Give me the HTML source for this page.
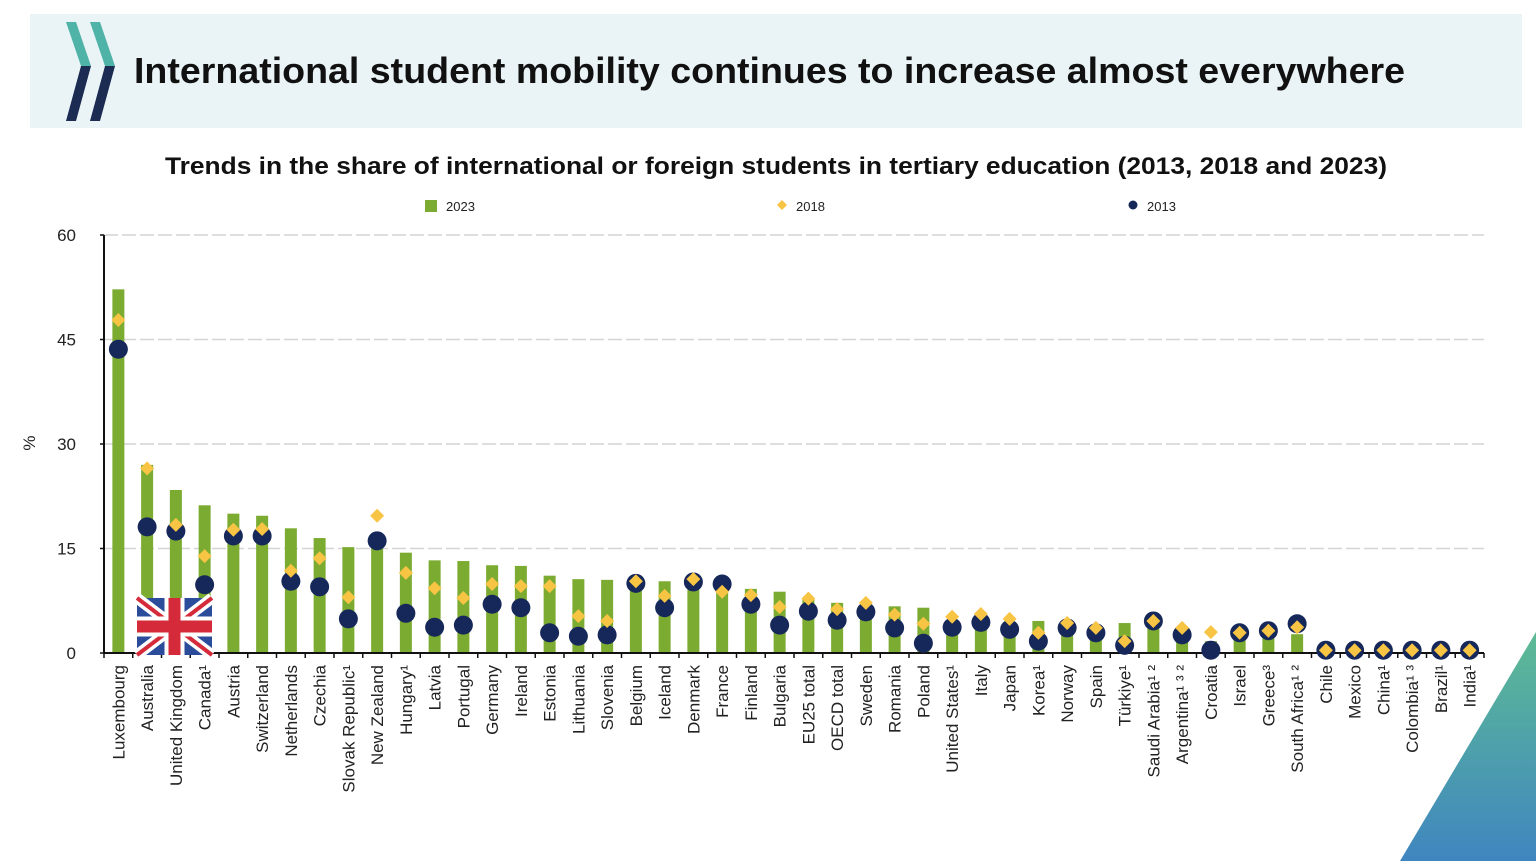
<!DOCTYPE html>
<html><head><meta charset="utf-8">
<style>
body{margin:0;width:1536px;height:861px;background:#fff;overflow:hidden;font-family:"Liberation Sans",sans-serif;}
</style></head>
<body>
<svg width="1536" height="861" viewBox="0 0 1536 861" xmlns="http://www.w3.org/2000/svg">
<defs>
<linearGradient id="cg" x1="0" y1="0" x2="0" y2="1">
<stop offset="0" stop-color="#5dbb94"/><stop offset="1" stop-color="#3f86c0"/>
</linearGradient>
</defs>
<rect x="30" y="14" width="1492" height="114" fill="#eaf4f6"/>
<g>
<polygon points="66,22 76,22 91,66 81,66" fill="#4fb3a8"/>
<polygon points="81,66 91,66 76,121 66,121" fill="#1b2b52"/>
<polygon points="90,22 100,22 115,66 105,66" fill="#4fb3a8"/>
<polygon points="105,66 115,66 100,121 90,121" fill="#1b2b52"/>
</g>
<text x="134" y="83" font-size="36" font-weight="bold" fill="#111" textLength="1271" lengthAdjust="spacingAndGlyphs">International student mobility continues to increase almost everywhere</text>
<text x="165" y="174" font-size="24" font-weight="bold" fill="#111" textLength="1222" lengthAdjust="spacingAndGlyphs">Trends in the share of international or foreign students in tertiary education (2013, 2018 and 2023)</text>
<g>
<rect x="425" y="200" width="12" height="12" fill="#7cab32"/>
<text x="446" y="211" font-size="13" fill="#222">2023</text>
<polygon points="782,200 787,205 782,210 777,205" fill="#f7c444"/>
<text x="796" y="211" font-size="13" fill="#222">2018</text>
<circle cx="1133" cy="205" r="4.5" fill="#16285a"/>
<text x="1147" y="211" font-size="13" fill="#222">2013</text>
</g>
<text transform="translate(35,443) rotate(-90)" font-size="17" text-anchor="middle" fill="#222">%</text>
<g id="plot"></g>
<polygon points="1536,632 1536,861 1400,861" fill="url(#cg)"/>
</svg>
<script>
const categories=["Luxembourg","Australia","United Kingdom","Canada¹","Austria","Switzerland","Netherlands","Czechia","Slovak Republic¹","New Zealand","Hungary¹","Latvia","Portugal","Germany","Ireland","Estonia","Lithuania","Slovenia","Belgium","Iceland","Denmark","France","Finland","Bulgaria","EU25 total","OECD total","Sweden","Romania","Poland","United States¹","Italy","Japan","Korea¹","Norway","Spain","Türkiye¹","Saudi Arabia¹ ²","Argentina¹ ³ ²","Croatia","Israel","Greece³","South Africa¹ ²","Chile","Mexico","China¹","Colombia¹ ³","Brazil¹","India¹"];
const v2023=[52.2,27,23.4,21.2,20,19.7,17.9,16.5,15.2,16.2,14.4,13.3,13.2,12.6,12.5,11.1,10.6,10.5,10.8,10.3,10.2,8.9,9.2,8.8,7.9,7.2,6.9,6.7,6.5,4,4.4,4.3,4.6,3.7,3.6,4.3,3.6,1.9,1.7,2,2.2,2.7,0.5,0.5,0.5,0.5,0.5,0.5];
const v2018=[47.8,26.5,18.4,13.9,17.7,17.8,11.8,13.6,8,19.7,11.5,9.3,7.9,9.9,9.6,9.6,5.3,4.6,10.3,8.2,10.6,8.8,8.3,6.6,7.8,6.3,7.2,5.5,4.2,5.2,5.6,4.9,2.9,4.3,3.6,1.7,4.6,3.6,3,2.9,3.2,3.7,0.4,0.4,0.4,0.4,0.4,0.4];
const v2013=[43.6,18.1,17.5,9.8,16.8,16.8,10.3,9.5,4.9,16.1,5.7,3.7,4,7,6.5,2.9,2.4,2.6,10,6.5,10.2,9.9,7,4,6,4.7,5.9,3.6,1.4,3.7,4.4,3.4,1.7,3.6,2.9,1.1,4.6,2.6,0.4,2.9,3.2,4.2,0.4,0.4,0.4,0.4,0.4,0.4];
const yTicks=[0,15,30,45,60];
const NS="http://www.w3.org/2000/svg";
const x0=104,x1=1484,y0=653,yTop=235,ymax=60;
const band=(x1-x0)/categories.length;
const xc=i=>x0+band*(i+0.5);
const ys=v=>y0-(v/ymax)*(y0-yTop);
const g=document.getElementById('plot');
function mk(t,a){const e=document.createElementNS(NS,t);for(const k in a)e.setAttribute(k,a[k]);g.appendChild(e);return e;}
yTicks.forEach(t=>{
  if(t>0){const l=mk('line',{x1:x0,x2:x1,y1:ys(t),y2:ys(t),stroke:'#d4d4d4','stroke-width':1.5,'stroke-dasharray':'14 4'});
  
  }
  const tx=mk('text',{x:76,y:ys(t)+6,'font-size':17,'text-anchor':'end',fill:'#222'});
  tx.textContent=t;
  
  
});
categories.forEach((c,i)=>{
  const b=mk('rect',{x:xc(i)-6,y:ys(v2023[i]),width:12,height:y0-ys(v2023[i]),fill:'#7cab32'});
  
  
});
const ax=mk('line',{x1:x0,x2:x1,y1:y0,y2:y0,stroke:'#111','stroke-width':2});


const ay=mk('line',{x1:x0,x2:x0,y1:yTop,y2:y0,stroke:'#111','stroke-width':2});


for(let i=0;i<=categories.length;i++){mk('line',{x1:x0+band*i,x2:x0+band*i,y1:y0,y2:y0+5,stroke:'#111','stroke-width':1.5});}
yTicks.forEach(t=>mk('line',{x1:x0-4,x2:x0,y1:ys(t),y2:ys(t),stroke:'#111','stroke-width':1.5}));
categories.forEach((c,i)=>{
  const ci=mk('circle',{cx:xc(i),cy:ys(v2013[i]),r:9.5,fill:'#16285a'});
  
  
  const x=xc(i),y=ys(v2018[i]);
  const d=mk('polygon',{points:`${x},${y-7} ${x+7},${y} ${x},${y+7} ${x-7},${y}`,fill:'#f7c444'});
  
  
  const t=mk('text',{transform:`translate(${x+6},665) rotate(-90)`,'font-size':17,'text-anchor':'end',fill:'#222'});
  t.textContent=c;
  
  
});
const fx=137,fy=598,fw=75,fh=57;
const fg=document.createElementNS(NS,'g');g.appendChild(fg);


fg.innerHTML=`<rect x="${fx}" y="${fy}" width="${fw}" height="${fh}" fill="#2b4b9b"/>
<line x1="${fx}" y1="${fy}" x2="${fx+fw}" y2="${fy+fh}" stroke="#fff" stroke-width="11"/>
<line x1="${fx+fw}" y1="${fy}" x2="${fx}" y2="${fy+fh}" stroke="#fff" stroke-width="11"/>
<line x1="${fx}" y1="${fy}" x2="${fx+fw}" y2="${fy+fh}" stroke="#d42a3a" stroke-width="4"/>
<line x1="${fx+fw}" y1="${fy}" x2="${fx}" y2="${fy+fh}" stroke="#d42a3a" stroke-width="4"/>
<rect x="${fx+fw/2-10}" y="${fy}" width="20" height="${fh}" fill="#fff"/>
<rect x="${fx}" y="${fy+fh/2-10}" width="${fw}" height="20" fill="#fff"/>
<rect x="${fx+fw/2-6}" y="${fy}" width="12" height="${fh}" fill="#d42a3a"/>
<rect x="${fx}" y="${fy+fh/2-6}" width="${fw}" height="12" fill="#d42a3a"/>`;
</script>
</body></html>
